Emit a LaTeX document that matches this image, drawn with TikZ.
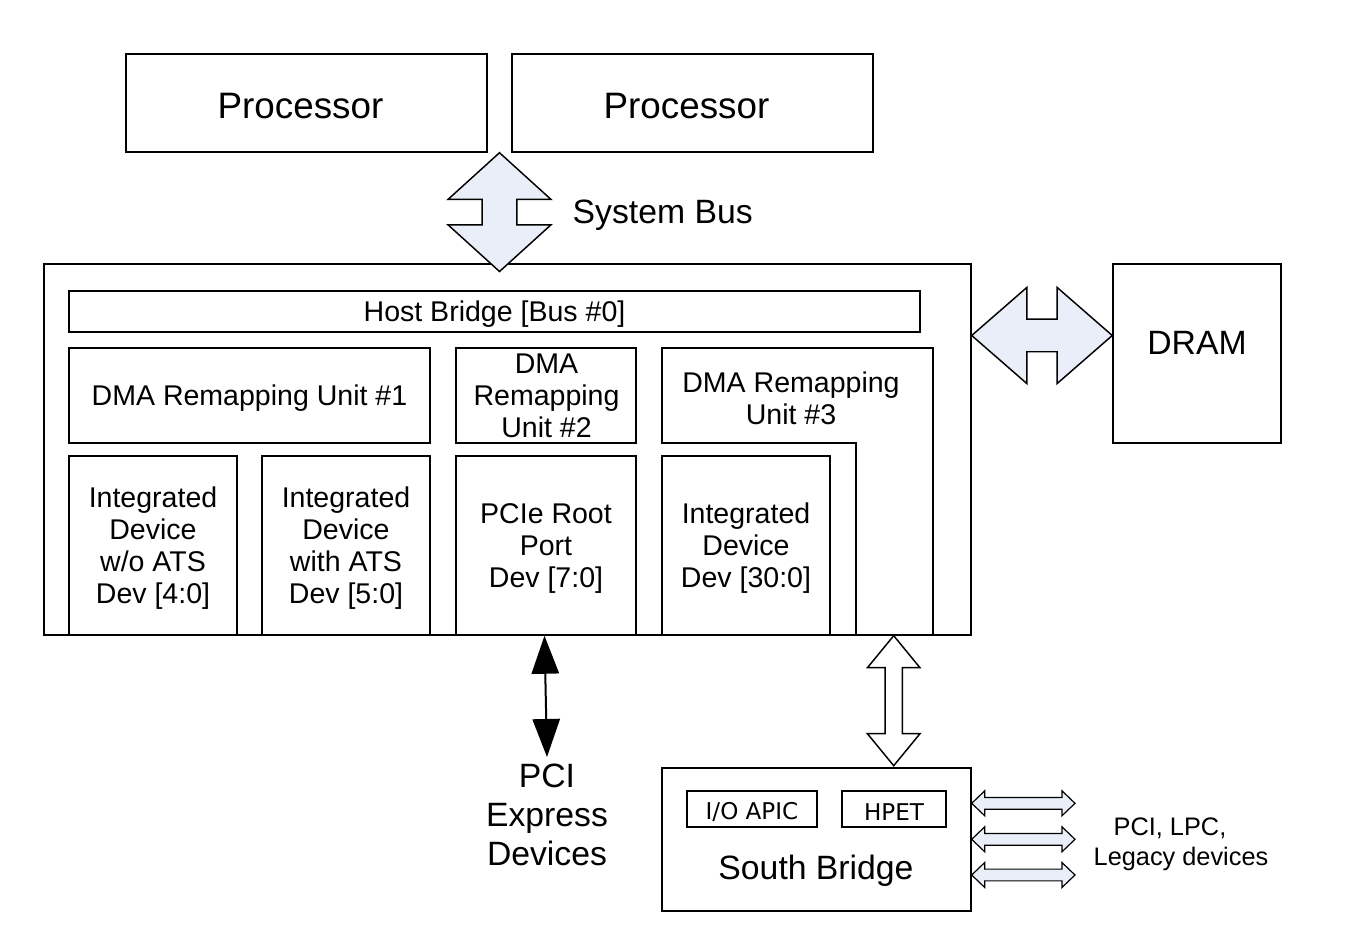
\documentclass[tikz,border=0pt]{standalone}
\usepackage{fontspec}
\setmainfont{Liberation Sans}
\newfontfamily\dejavu{DejaVu Sans}
\usetikzlibrary{calc,arrows.meta}
\definecolor{blockblue}{RGB}{233,238,248}
\newcommand\fsz[2]{\fontsize{#1}{#2}\selectfont}
% box node: name, x1, y1, x2, y2, text
\newcommand\bx[6]{\node[box, minimum width={(#4-#2)*0.75pt}, minimum height={(#5-#3)*0.75pt}] (#1) at ({(#2+#4)/2},{(#3+#5)/2}) {};
  \node[label] (#1t) at (#1.center) {#6};}
% vertical double block arrow: style, top, bottom, half head, half shaft, head length (pt)
\newcommand\vdbl[6]{\draw[#1] let \p1=(#2), \p2=(#3) in (\p1) -- (\x1+#4,\y1-#6) -- (\x1+#5,\y1-#6) -- (\x1+#5,\y2+#6) -- (\x1+#4,\y2+#6) -- (\p2) -- (\x1-#4,\y2+#6) -- (\x1-#5,\y2+#6) -- (\x1-#5,\y1-#6) -- (\x1-#4,\y1-#6) -- cycle;}
% horizontal double block arrow: style, left, right, half head, half shaft, head length (pt)
\newcommand\hdbl[6]{\draw[#1] let \p1=(#2), \p2=(#3) in (\p1) -- (\x1+#6,\y1+#4) -- (\x1+#6,\y1+#5) -- (\x2-#6,\y1+#5) -- (\x2-#6,\y1+#4) -- (\p2) -- (\x2-#6,\y1-#4) -- (\x2-#6,\y1-#5) -- (\x1+#6,\y1-#5) -- (\x1+#6,\y1-#4) -- cycle;}
\begin{document}
\begin{tikzpicture}[x=0.75pt,y=-0.75pt, line width=1.1pt,
  every node/.style={font=\fsz{21.4}{24}},
  box/.style={draw, inner sep=0pt},
  label/.style={align=center, inner sep=0pt, yshift=-2.25pt},
  bluearrow/.style={draw, fill=blockblue, line join=miter},
  whitearrow/.style={draw, fill=white, line join=miter},
  smallarrow/.style={draw, fill=blockblue, line width=0.9pt, line join=miter},
  pcitip/.tip={Triangle[length=28.5pt,width=20.5pt]}]
\useasboundingbox (0,0) rectangle (1368,934);

% processors
\bx{proc1}{126}{54}{487}{152}{\fsz{27.6}{30}Processor\hspace*{9pt}}
\bx{proc2}{512}{54}{873}{152}{\fsz{27.6}{30}Processor\hspace*{9pt}}

% host
\bx{host}{44}{264}{971}{635}{}
\bx{hb}{69}{291}{920}{332}{Host Bridge [Bus \#0]}
\bx{dma1}{69}{348}{430}{443}{DMA Remapping Unit \#1}
\bx{dma2}{456}{348}{636}{443}{}
\node[label] (dma2t) at (546.5,393) {DMA\\Remapping\\Unit \#2};
\draw (662,348) -- (933,348) -- (933,635) -- (856,635) -- (856,443) -- (662,443) -- cycle;
\node[label] (dma3) at (791,395) {DMA Remapping\\Unit \#3};
\bx{dev1}{69}{456}{237}{635}{Integrated\\Device\\w/o ATS\\Dev [4:0]}
\bx{dev2}{262}{456}{430}{635}{Integrated\\Device\\with ATS\\Dev [5:0]}
\bx{pcie}{456}{456}{636}{635}{PCIe Root\\Port\\Dev [7:0]}
\bx{dev3}{662}{456}{830}{635}{Integrated\\Device\\Dev [30:0]}

% DRAM
\bx{dram}{1113}{264}{1281}{443}{}
\node[label, font=\fsz{25.3}{28}] (dramt) at (1197,340) {DRAM};

% system bus arrow
\coordinate (sbtop) at ($(proc1.south east)!0.5!(proc2.south west)$);
\coordinate (sbbot) at (499.5,271.5);
\vdbl{bluearrow}{sbtop}{sbbot}{38.6pt}{13.1pt}{35pt}
\node[label, font=\fsz{25.3}{28}, anchor=west] (sbus) at (572,212) {System Bus};

% DRAM arrow
\coordinate (dl) at (971.7,335.5);
\coordinate (dr) at (dram.west |- dl);
\hdbl{bluearrow}{dl}{dr}{36pt}{12.2pt}{41.3pt}

% PCI Express
\node[label, font=\fsz{25.3}{29}] (pcix) at (547,812) {PCI\\Express\\Devices};
\coordinate (pciend) at (547,757);
\draw[{pcitip}-{pcitip}, line width=1.5pt] ($(pcie.south)+(-1.5,0)$) -- (pciend);

% South bridge
\bx{sb}{662}{768}{971}{911}{}
\bx{ioapic}{687}{791}{817}{827}{\dejavu\fsz{17.3}{20}I/O APIC}
\bx{hpet}{842}{791}{946}{827}{\dejavu\fsz{17.3}{20}HPET}
\node[label, font=\fsz{25.3}{28}] (sbt) at (816,868) {South Bridge};

% arrow host - south bridge
\coordinate (hstop) at (893.7,635.7);
\coordinate (hsbot) at (hstop |- 0,765.7);
\vdbl{whitearrow}{hstop}{hsbot}{19.7pt}{6.5pt}{24pt}

% legacy arrows
\coordinate (la1) at (971.7,803.3);
\coordinate (ra1) at (1075,803.3);
\coordinate (la2) at (971.7,839.3);
\coordinate (ra2) at (1075,839.3);
\coordinate (la3) at (971.7,875);
\coordinate (ra3) at (1075,875);
\hdbl{smallarrow}{la1}{ra1}{9.4pt}{4.4pt}{9.8pt}
\hdbl{smallarrow}{la2}{ra2}{9.4pt}{4.4pt}{9.8pt}
\hdbl{smallarrow}{la3}{ra3}{9.4pt}{4.4pt}{9.8pt}
\node[label, font=\fsz{19}{22.5}] (legacy) at (1181,841.5) {PCI, LPC,\hspace*{16.5pt}\\Legacy devices};
\end{tikzpicture}
\end{document}
